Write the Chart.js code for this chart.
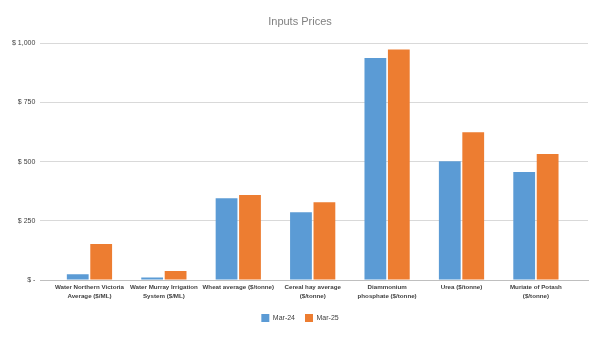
<!DOCTYPE html>
<html>
<head>
<meta charset="utf-8">
<script src="https://cdn.jsdelivr.net/npm/chart.js@4/dist/chart.umd.min.js"></script>
<style>
  html, body { margin: 0; padding: 0; background: #fff; }
  #wrap { width: 600px; height: 338px; }
</style>
</head>
<body>
<div id="wrap"><canvas id="myChart"></canvas></div>
<script>
const categories = [
    ['Water Northern Victoria', 'Average ($/ML)'],
    ['Water Murray Irrigation', 'System ($/ML)'],
    'Wheat average ($/tonne)',
    ['Cereal hay average', '($/tonne)'],
    ['Diammonium', 'phosphate ($/tonne)'],
    'Urea ($/tonne)',
    ['Muriate of Potash', '($/tonne)']
]
const mar24 = [24, 11, 345, 286, 938, 502, 456]
const mar25 = [152, 38, 359, 328, 973, 624, 532]
const yTicks = [0, 250, 500, 750, 1000]

const labelFont = "'Liberation Sans', sans-serif"

// bars sit on a numeric x axis (category index) so the plot can keep
// the extra margin left and right of the outer groups
const toPoints = arr => arr.map((v, i) => ({ x: i, y: v }))

const ctx = document.getElementById('myChart').getContext('2d')
const myChart = new Chart(ctx, {
    type: 'bar',
    data: {
        datasets: [{
            label: 'Mar-24',
            data: toPoints(mar24),
            backgroundColor: '#5B9BD5'
        }, {
            label: 'Mar-25',
            data: toPoints(mar25),
            backgroundColor: '#ED7D31'
        }]
    },
    options: {
        responsive: true,
        maintainAspectRatio: false,
        animation: false,
        layout: { padding: { left: 12, right: 12, top: 10, bottom: 6 } },
        datasets: {
            bar: { categoryPercentage: 0.63, barPercentage: 0.93 }
        },
        plugins: {
            title: {
                display: true,
                text: 'Inputs Prices',
                color: '#808080',
                font: { family: labelFont, size: 11, weight: 'normal' },
                padding: { top: 5, bottom: 15 }
            },
            legend: {
                position: 'bottom',
                labels: {
                    boxWidth: 8,
                    boxHeight: 8,
                    padding: 10,
                    color: '#404040',
                    font: { family: labelFont, size: 7 }
                }
            },
            tooltip: { enabled: false }
        },
        scales: {
            x: {
                type: 'linear',
                offset: false,
                min: -0.66,
                max: 6.7,
                afterBuildTicks: axis => { axis.ticks = categories.map((c, i) => ({ value: i })) },
                grid: { display: false, drawTicks: false },
                border: { color: '#bfbfbf', width: 1 },
                ticks: {
                    color: '#404040',
                    font: { family: labelFont, size: 6.2, weight: 'bold', lineHeight: 1.45 },
                    maxRotation: 0,
                    autoSkip: false,
                    padding: 3,
                    callback: v => categories[v]
                }
            },
            y: {
                min: 0,
                max: 1000,
                afterBuildTicks: axis => { axis.ticks = yTicks.map(v => ({ value: v })) },
                grid: { color: '#d9d9d9', drawTicks: true, tickLength: 5, tickColor: '#ffffff' },
                border: { display: false },
                ticks: {
                    color: '#404040',
                    font: { family: labelFont, size: 7 },
                    padding: 0,
                    callback: v => v === 0 ? '$ -' : '$ ' + v.toLocaleString('en-US')
                }
            }
        }
    }
})
</script>
</body>
</html>
